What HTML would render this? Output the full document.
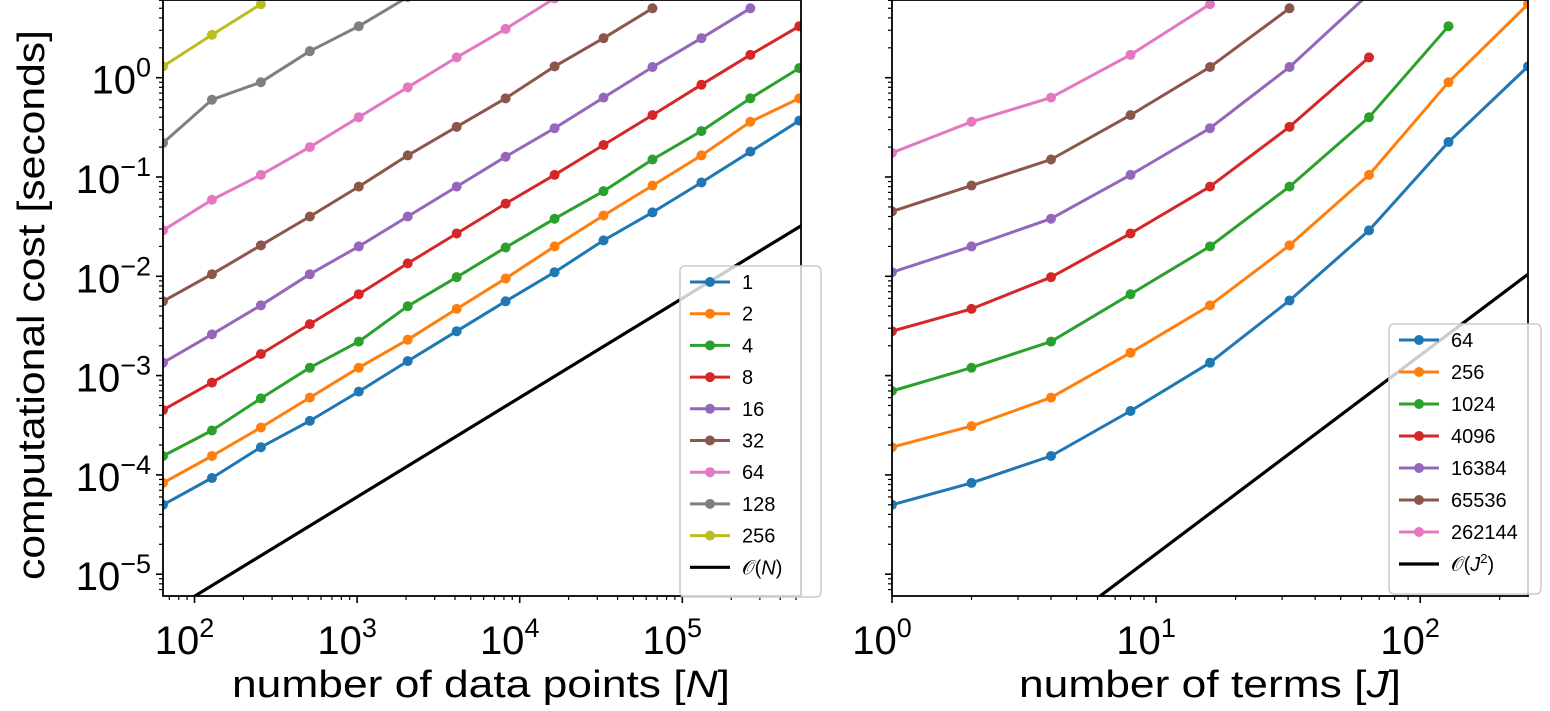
<!DOCTYPE html>
<html><head><meta charset="utf-8"><style>
html,body{margin:0;padding:0;background:#fff;overflow:hidden;width:1550px;height:711px;}
svg{display:block;font-family:"Liberation Sans","DejaVu Sans",sans-serif;}
</style></head><body>
<svg id="chart" width="1550" height="711" viewBox="0 0 1550 711" xmlns="http://www.w3.org/2000/svg">
<text x="0" y="0" transform="translate(44,305) rotate(-90)" text-anchor="middle" font-size="38" textLength="550" lengthAdjust="spacingAndGlyphs">computational cost [seconds]</text>
<text x="481" y="697" text-anchor="middle" font-size="38" textLength="498" lengthAdjust="spacingAndGlyphs">number of data points [<tspan font-style="italic">N</tspan>]</text>
<text x="1210" y="697" text-anchor="middle" font-size="38" textLength="382" lengthAdjust="spacingAndGlyphs">number of terms [<tspan font-style="italic">J</tspan>]</text>
</svg>
<script>
const colors = ["#1f77b4","#ff7f0e","#2ca02c","#d62728","#9467bd","#8c564b","#e377c2","#7f7f7f","#bcbd22"];
// Left panel data
const leftN = [64,128,256,512,1024,2048,4096,8192,16384,32768,65536,131072,262144,524288];
const leftLabels = ["1","2","4","8","16","32","64","128","256"];
const leftS1 = [5e-5,9.3e-5,1.9e-4,3.5e-4,6.9e-4,1.4e-3,2.8e-3,5.6e-3,1.1e-2,2.3e-2,4.4e-2,8.8e-2,0.18,0.37];
const leftS2 = [8.3e-5,1.55e-4,3.0e-4,6.0e-4,1.2e-3,2.3e-3,4.7e-3,9.5e-3,2.0e-2,4.1e-2,8.2e-2,0.165,0.36,0.62];
const leftS4 = [1.55e-4,2.8e-4,5.9e-4,1.2e-3,2.2e-3,5.0e-3,9.8e-3,1.95e-2,3.8e-2,7.2e-2,0.15,0.29,0.62,1.25];
const leftS8 = [4.5e-4,8.5e-4,1.65e-3,3.3e-3,6.6e-3,1.35e-2,2.7e-2,5.4e-2,0.105,0.21,0.42,0.85,1.7,3.3];
const leftS16 = [1.35e-3,2.6e-3,5.1e-3,1.05e-2,2.0e-2,4.0e-2,8.0e-2,0.16,0.31,0.63,1.28,2.5,5.0];
const leftS32 = [5.6e-3,1.05e-2,2.05e-2,4.0e-2,8.0e-2,0.165,0.32,0.62,1.3,2.5,5.0];
const leftS64 = [2.9e-2,5.9e-2,0.105,0.2,0.4,0.8,1.6,3.1,6.3];
const leftS128 = [0.22,0.6,0.9,1.85,3.3,6.5];
const leftS256 = [1.3,2.7,5.5];
const leftRefCoef = 6e-8; // O(N)
// Right panel data
const rightJ = [1,2,4,8,16,32,64,128,256];
const rightLabels = ["64","256","1024","4096","16384","65536","262144"];
const rightS64 = [5e-5,8.3e-5,1.55e-4,4.4e-4,1.35e-3,5.7e-3,2.9e-2,0.225,1.3];
const rightS256 = [1.9e-4,3.1e-4,6e-4,1.7e-3,5.1e-3,2.05e-2,0.105,0.9,5.5];
const rightS1024 = [7e-4,1.2e-3,2.2e-3,6.6e-3,2.0e-2,8.0e-2,0.4,3.3];
const rightS4096 = [2.8e-3,4.7e-3,9.8e-3,2.7e-2,8.0e-2,0.32,1.6];
const rightS16384 = [1.1e-2,2.0e-2,3.8e-2,0.105,0.31,1.28,7.0];
const rightS65536 = [4.5e-2,8.2e-2,0.15,0.42,1.28,5.0];
const rightS262144 = [0.175,0.36,0.63,1.7,5.5];
const rightRefCoef = 1.6e-7; // O(J^2)
const yTickExps = [0,-1,-2,-3,-4,-5];
const leftXTickExps = [2,3,4,5];
const rightXTickExps = [0,1,2];

const NS = "http://www.w3.org/2000/svg";
const svg = document.getElementById("chart");
function mk(tag, attrs, parent){ const e=document.createElementNS(NS,tag); for(const k in attrs) e.setAttribute(k,attrs[k]); (parent||svg).appendChild(e); return e; }

const TOP=0, BOT=596, Y0=77.7, YDEC=99.3;
function yS(v){ return Y0 - Math.log10(v)*YDEC; }
const ylogMin=(Y0-BOT)/YDEC, ylogMax=(Y0-TOP)/YDEC;

function panel(name, x0, x1, lmin, lmax, xTicks, series, xs, labels, refCoef, refPow, refLabel, legend){
  const xS = v => x0 + (Math.log10(v)-lmin)/(lmax-lmin)*(x1-x0);
  const g = mk("g",{});
  
  
  const clipId = name+"-clip";
  const cp = mk("clipPath",{id:clipId},g); mk("rect",{x:x0,y:TOP,width:x1-x0,height:BOT-TOP},cp);
  const plot = mk("g",{"clip-path":"url(#"+clipId+")"},g);
  const rx0 = Math.pow(10,lmin), rx1=Math.pow(10,lmax);
  const ref = mk("line",{x1:xS(rx0),y1:yS(refCoef*Math.pow(rx0,refPow)),x2:xS(rx1),y2:yS(refCoef*Math.pow(rx1,refPow)),stroke:"#000","stroke-width":3.2},plot);
  
  
  series.forEach((s,i)=>{
    const pts = s.map((v,j)=>xS(xs[j]).toFixed(1)+","+yS(v).toFixed(1)).join(" ");
    const sg = mk("g",{},plot);
    
    
    mk("polyline",{points:pts,fill:"none",stroke:colors[i],"stroke-width":3,"stroke-linejoin":"round"},sg);
    s.forEach((v,j)=>{
      const c = mk("circle",{cx:xS(xs[j]),cy:yS(v),r:5,fill:colors[i]},sg);
      
      
    });
  });
  const fr = mk("rect",{x:x0,y:TOP,width:x1-x0,height:BOT-TOP,fill:"none",stroke:"#000","stroke-width":1.8},g);
  
  
  for(let e=Math.floor(lmin); e<=Math.ceil(lmax); e++){
    for(let m=1;m<10;m++){
      const v=m*Math.pow(10,e); const lv=Math.log10(v);
      if(lv<lmin-1e-6||lv>lmax+1e-6) continue;
      const x=xS(v); const L = m===1?7:4;
      mk("line",{x1:x,y1:BOT,x2:x,y2:BOT+L,stroke:"#000","stroke-width":m===1?1.6:1.2},g);
    }
  }
  xTicks.forEach(e=>{
    const t = mk("text",{x:xS(Math.pow(10,e))-10,y:BOT+58,"text-anchor":"middle","font-size":40},g);
    
    
    t.textContent="10";
    const sup = mk("tspan",{dy:-17,"font-size":27},t); sup.textContent=String(e);
  });
  for(let e=Math.floor(ylogMin); e<=Math.ceil(ylogMax); e++){
    for(let m=1;m<10;m++){
      const v=m*Math.pow(10,e); const lv=Math.log10(v);
      if(lv<ylogMin||lv>ylogMax) continue;
      const y=yS(v); const L=m===1?7:4;
      mk("line",{x1:x0-L,y1:y,x2:x0,y2:y,stroke:"#000","stroke-width":m===1?1.6:1.2},g);
    }
  }
  if(name==="left"){
    yTickExps.forEach(e=>{
      const t = mk("text",{x:x0-12,y:yS(Math.pow(10,e))+16,"text-anchor":"end","font-size":40},g);
      
      
      const b = mk("tspan",{},t); b.textContent="10";
      const sup = mk("tspan",{dy:-17,"font-size":27},t); sup.textContent = e===0?"0":"\u2212"+(-e);
    });
  }
  const lg = mk("g",{},g);
  
  
  const n = labels.length+1;
  mk("rect",{x:legend.x,y:legend.y,width:legend.w,height:n*legend.dy+14,rx:5,fill:"#fff","fill-opacity":0.8,stroke:"#cccccc","stroke-width":1.5},lg);
  labels.forEach((lab,i)=>{
    const y = legend.y+16+i*legend.dy;
    const en = mk("g",{},lg);
    
    
    mk("line",{x1:legend.x+10,y1:y,x2:legend.x+50,y2:y,stroke:colors[i],"stroke-width":3},en);
    mk("circle",{cx:legend.x+30,cy:y,r:5,fill:colors[i]},en);
    const t=mk("text",{x:legend.x+62,y:y+7,"font-size":20},en); t.textContent=lab;
  });
  const y = legend.y+16+labels.length*legend.dy;
  const en = mk("g",{},lg);
  
  
  mk("line",{x1:legend.x+10,y1:y,x2:legend.x+50,y2:y,stroke:"#000","stroke-width":3.2},en);
  const t=mk("text",{x:legend.x+62,y:y+7,"font-size":20},en);
  t.innerHTML = refLabel;
}

panel("left",163,801,Math.log10(64),5.73,leftXTickExps,
  [leftS1,leftS2,leftS4,leftS8,leftS16,leftS32,leftS64,leftS128,leftS256],
  leftN,leftLabels,leftRefCoef,1,'𝒪(<tspan font-style="italic">N</tspan>)',{x:680,y:266,w:141,dy:31.7});
panel("right",892,1528,0,Math.log10(256),rightXTickExps,
  [rightS64,rightS256,rightS1024,rightS4096,rightS16384,rightS65536,rightS262144],
  rightJ,rightLabels,rightRefCoef,2,'𝒪(<tspan font-style="italic">J</tspan><tspan dy="-8" font-size="13">2</tspan><tspan dy="8">)</tspan>',{x:1389,y:324,w:152,dy:32});
</script>
</body></html>
